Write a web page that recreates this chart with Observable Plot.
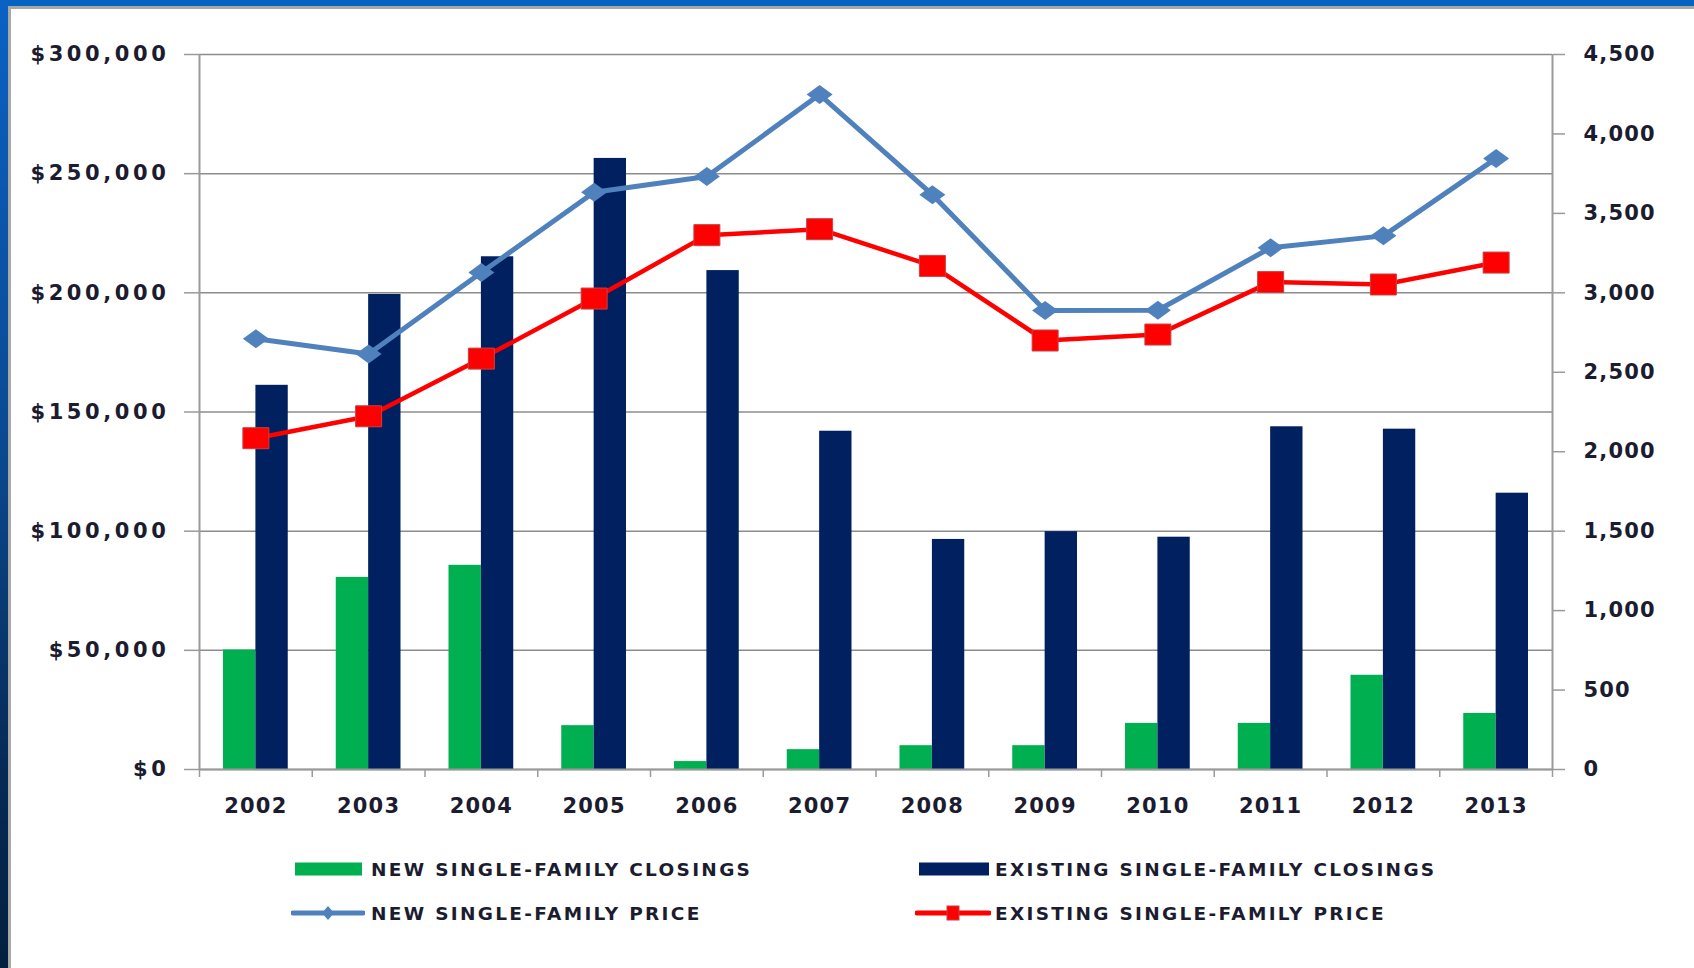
<!DOCTYPE html>
<html>
<head>
<meta charset="utf-8">
<script src="https://cdn.jsdelivr.net/npm/d3@7"></script>
<script src="https://cdn.jsdelivr.net/npm/@observablehq/plot@0.6"></script>
<style>
  html, body { margin: 0; padding: 0; }
  body { width: 1694px; height: 968px; overflow: hidden; position: relative; background: #0563c1; font-family: "DejaVu Sans", sans-serif; }
  #leftstrip { position: absolute; left: 0; top: 0; width: 10px; height: 968px; background: linear-gradient(#0a62c4, #0a4a92 45%, #062a55 80%, #04203f); }
  #card { position: absolute; left: 8px; top: 6px; width: 1686px; height: 962px; background: #ffffff; border-left: 3px solid #a8a8a8; border-top: 3px solid #a8a8a8; box-sizing: border-box; }
  #chart { position: absolute; left: 0; top: 0; }
  .lg { position: absolute; height: 26px; display: flex; align-items: center; font-weight: bold; font-size: 18.5px; letter-spacing: 2.3px; color: #1c1c30; white-space: nowrap; }
  .sw { position: absolute; }
</style>
</head>
<body>
<div id="leftstrip"></div>
<div id="card"><div id="chart"></div></div>
<div id="legend"></div>
<script>
// ---- data ----
const years = [2002, 2003, 2004, 2005, 2006, 2007, 2008, 2009, 2010, 2011, 2012, 2013];
const newClosings = [752, 1209, 1285, 276, 50, 125, 150, 150, 290, 290, 593, 353];
const existingClosings = [2418, 2990, 3227, 3846, 3140, 2129, 1448, 1497, 1462, 2157, 2142, 1739];
const newPrice = [180750, 174300, 208500, 242200, 248800, 283200, 241200, 192600, 192700, 218900, 223900, 256400];
const existingPrice = [139000, 148200, 172400, 197600, 224200, 226700, 211300, 180000, 182500, 204500, 203500, 212700];
const priceTicks = [0, 50000, 100000, 150000, 200000, 250000, 300000];
const closingTicks = [0, 500, 1000, 1500, 2000, 2500, 3000, 3500, 4000, 4500];
const seriesNames = ["NEW SINGLE-FAMILY CLOSINGS", "EXISTING SINGLE-FAMILY CLOSINGS", "NEW SINGLE-FAMILY PRICE", "EXISTING SINGLE-FAMILY PRICE"];
const colors = { newClosings: "#00b050", existingClosings: "#002060", newPrice: "#4f81bd", existingPrice: "#ff0000" };

const K = 300000 / 4500; // right axis (closings) -> left axis (price)
const rows = years.map((year, i) => ({
  year,
  newClosings: newClosings[i],
  existingClosings: existingClosings[i],
  newPrice: newPrice[i],
  existingPrice: existingPrice[i]
}));
const boundaries = years.map(y => y - 0.5).concat([years[years.length - 1] + 0.5]);

const diamond = { draw(ctx) { ctx.moveTo(-13, 0); ctx.lineTo(0, -9.5); ctx.lineTo(13, 0); ctx.lineTo(0, 9.5); ctx.closePath(); } };
const wideSquare = { draw(ctx) { ctx.moveTo(-13, -10.5); ctx.lineTo(13, -10.5); ctx.lineTo(13, 10.5); ctx.lineTo(-13, 10.5); ctx.closePath(); } };

const axisGray = "#9a9a9a";
const textColor = "#1c1c30";

const chart = Plot.plot({
  width: 1683,
  height: 830,
  marginLeft: 188,
  marginRight: 142,
  marginTop: 45,
  marginBottom: 70,
  style: { fontFamily: "'DejaVu Sans', sans-serif", fontWeight: "bold", fontSize: "21px", color: textColor, background: "transparent", overflow: "visible" },
  x: { type: "linear", domain: [years[0] - 0.5, years[years.length - 1] + 0.5] },
  y: { domain: [0, 300000] },
  marks: [
    Plot.ruleY(priceTicks, { stroke: "#8c8c8c", strokeWidth: 1.5 }),
    Plot.rectY(rows, { x1: d => d.year - 0.5, x2: d => d.year + 0.5, y: d => d.newClosings * K, fill: colors.newClosings, insetLeft: 24, insetRight: 56.4 }),
    Plot.rectY(rows, { x1: d => d.year - 0.5, x2: d => d.year + 0.5, y: d => d.existingClosings * K, fill: colors.existingClosings, insetLeft: 56.4, insetRight: 24 }),
    Plot.ruleX([years[0] - 0.5, years[years.length - 1] + 0.5], { stroke: axisGray, strokeWidth: 2 }),
    Plot.ruleY([0], { stroke: axisGray, strokeWidth: 2 }),
    Plot.line(rows, { x: "year", y: "newPrice", stroke: colors.newPrice, strokeWidth: 5 }),
    Plot.dot(rows, { x: "year", y: "newPrice", symbol: diamond, fill: colors.newPrice, r: 5 }),
    Plot.line(rows, { x: "year", y: "existingPrice", stroke: colors.existingPrice, strokeWidth: 4.5 }),
    Plot.dot(rows, { x: "year", y: "existingPrice", symbol: wideSquare, fill: colors.existingPrice, stroke: "#c84040", strokeWidth: 1, r: 5 }),
    Plot.axisY({ anchor: "left", ticks: priceTicks, tickFormat: d => "$" + d3.format(",")(d), tickSize: 15, tickPadding: 15, stroke: axisGray, strokeWidth: 1.5, fill: textColor, fontSize: 21, label: null }),
    Plot.axisY({ anchor: "right", ticks: closingTicks.map(v => v * K), tickFormat: d => d3.format(",")(Math.round(d / K)), tickSize: 12, tickPadding: 19, stroke: axisGray, strokeWidth: 1.5, fill: textColor, fontSize: 21, label: null }),
    Plot.axisX({ ticks: years, tickFormat: d => String(d), tickSize: 0, tickPadding: 29, fill: textColor, fontSize: 21, label: null }),
    Plot.axisX({ ticks: boundaries, tickFormat: () => "", tickSize: 8, stroke: axisGray, strokeWidth: 1.5, label: null })
  ]
});

const yLabelGroups = chart.querySelectorAll('g[aria-label="y-axis tick label"]');
if (yLabelGroups[0]) yLabelGroups[0].style.letterSpacing = "3.6px";
if (yLabelGroups[1]) yLabelGroups[1].style.letterSpacing = "1.2px";
chart.querySelectorAll('g[aria-label="x-axis tick label"]').forEach(g => g.style.letterSpacing = "1.2px");
document.getElementById("chart").appendChild(chart);

// ---- legend ----
const legend = document.getElementById("legend");
const items = [
  { name: seriesNames[0], kind: "bar", color: colors.newClosings, sx: 295, sw: 67, tx: 371, cy: 869 },
  { name: seriesNames[1], kind: "bar", color: colors.existingClosings, sx: 919, sw: 70, tx: 995, cy: 869 },
  { name: seriesNames[2], kind: "diamond", color: colors.newPrice, sx: 291, sw: 74, tx: 371, cy: 913 },
  { name: seriesNames[3], kind: "square", color: colors.existingPrice, sx: 915, sw: 76, tx: 995, cy: 913 }
];
for (const it of items) {
  const ns = "http://www.w3.org/2000/svg";
  const s = document.createElementNS(ns, "svg");
  s.setAttribute("class", "sw");
  s.setAttribute("width", it.sw);
  s.setAttribute("height", 20);
  s.style.left = it.sx + "px";
  s.style.top = (it.cy - 10) + "px";
  if (it.kind === "bar") {
    s.innerHTML = `<rect x="0" y="3.5" width="${it.sw}" height="13" fill="${it.color}"/>`;
  } else if (it.kind === "diamond") {
    const m = it.sw / 2;
    s.innerHTML = `<line x1="2" x2="${it.sw - 2}" y1="10" y2="10" stroke="${it.color}" stroke-width="5" stroke-linecap="round"/>` +
      `<path d="M${m - 6},10L${m},3L${m + 6},10L${m},17Z" fill="${it.color}"/>`;
  } else {
    const m = it.sw / 2;
    s.innerHTML = `<line x1="2" x2="${it.sw - 2}" y1="10" y2="10" stroke="${it.color}" stroke-width="5" stroke-linecap="round"/>` +
      `<rect x="${m - 6}" y="3" width="12" height="14" fill="${it.color}" stroke="#c84040" stroke-width="1"/>`;
  }
  legend.appendChild(s);
  const t = document.createElement("div");
  t.className = "lg";
  t.textContent = it.name;
  t.style.left = it.tx + "px";
  t.style.top = (it.cy - 13) + "px";
  legend.appendChild(t);
}
</script>
</body>
</html>
